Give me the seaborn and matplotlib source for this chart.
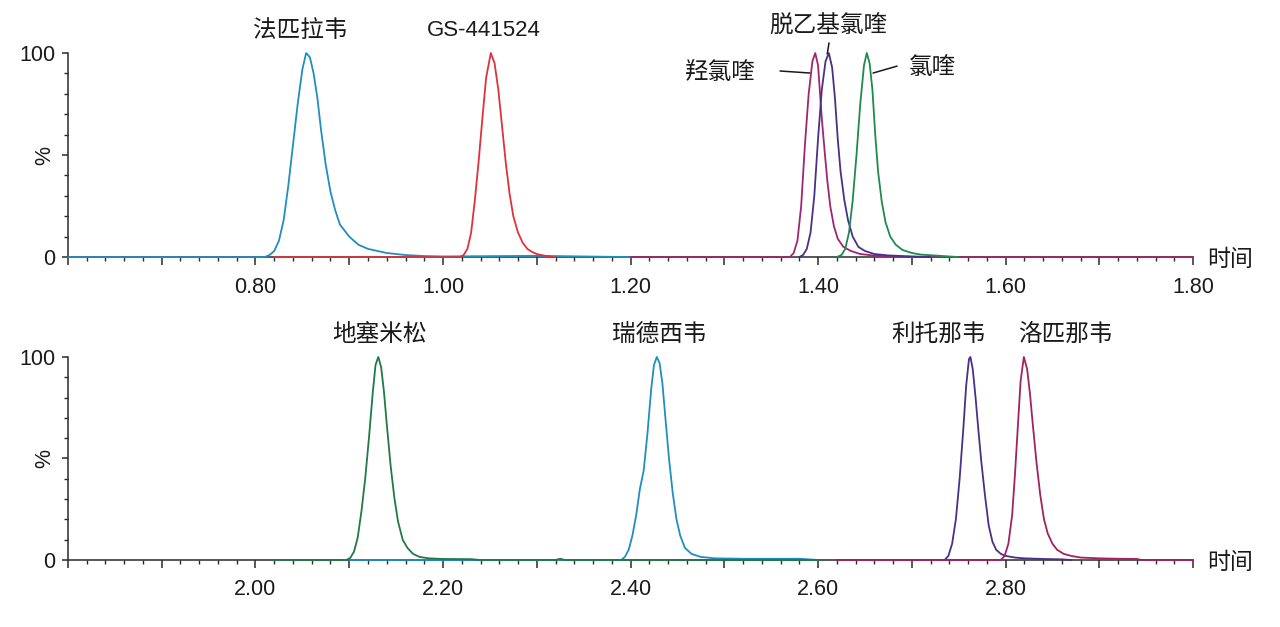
import pandas as pd
import matplotlib.pyplot as plt
import matplotlib.ticker as mticker
import seaborn as sns

# ---- top panel traces: retention time (min) / relative intensity (%) ----
favipiravir_t = [0.60, 0.81, 0.815, 0.82, 0.825, 0.83, 0.835, 0.84, 0.845, 0.85, 0.854, 0.858,
                 0.862, 0.866, 0.87, 0.875, 0.88, 0.885, 0.89, 0.90, 0.91, 0.92, 0.93, 0.94,
                 0.96, 0.98, 1.00, 1.10, 1.15, 1.20]
favipiravir_y = [0, 0, 1, 3, 8, 18, 35, 55, 75, 92, 100, 98,
                 90, 78, 62, 45, 32, 23, 16, 10, 6, 4, 3, 2,
                 1, 0.5, 0.3, 0.6, 0.3, 0]

gs441524_t = [0.82, 1.018, 1.022, 1.026, 1.03, 1.034, 1.038, 1.042, 1.046, 1.051, 1.055, 1.059,
              1.063, 1.067, 1.071, 1.075, 1.08, 1.085, 1.09, 1.095, 1.10, 1.11, 1.12]
gs441524_y = [0, 0, 1, 4, 12, 28, 47, 68, 88, 100, 95, 82,
              64, 46, 31, 20, 12, 7, 4, 2.5, 1.5, 0.5, 0]

hcq_t = [1.20, 1.37, 1.374, 1.378, 1.382, 1.386, 1.39, 1.394, 1.397, 1.40, 1.404, 1.407,
         1.41, 1.413, 1.417, 1.421, 1.427, 1.435, 1.445, 1.46, 1.48, 1.50, 1.80]
hcq_y = [0, 0, 2, 8, 25, 55, 80, 96, 100, 94, 68, 52,
         37, 25, 15, 9, 5, 3, 1.5, 0.7, 0.3, 0, 0]

desethyl_cq_t = [1.38, 1.384, 1.388, 1.392, 1.396, 1.40, 1.404, 1.408, 1.4115, 1.415, 1.418, 1.421,
                 1.424, 1.428, 1.432, 1.437, 1.443, 1.45, 1.46, 1.475, 1.49, 1.52]
desethyl_cq_y = [0, 1, 4, 12, 30, 58, 82, 96, 100, 93, 78, 58,
                 42, 28, 18, 10, 5, 3, 1.5, 0.8, 0.5, 0]

cq_t = [1.42, 1.425, 1.429, 1.433, 1.437, 1.441, 1.445, 1.449, 1.452, 1.455, 1.458, 1.461,
        1.464, 1.468, 1.472, 1.477, 1.483, 1.49, 1.50, 1.51, 1.53, 1.55]
cq_y = [0, 1, 4, 12, 28, 50, 75, 94, 100, 95, 82, 60,
        42, 27, 17, 10, 6, 3.5, 2, 1.2, 0.6, 0]

# ---- bottom panel traces ----
dexamethasone_t = [2.02, 2.097, 2.101, 2.105, 2.109, 2.113, 2.117, 2.121, 2.125, 2.128, 2.131, 2.134,
                   2.137, 2.14, 2.144, 2.148, 2.152, 2.157, 2.162, 2.168, 2.175, 2.185, 2.20, 2.23,
                   2.24, 2.32, 2.325, 2.33, 2.60]
dexamethasone_y = [0, 0, 1, 4, 11, 24, 40, 60, 82, 96, 100, 95,
                   83, 67, 47, 31, 19, 10, 6, 3, 1.5, 0.8, 0.5, 0.4,
                   0, 0, 0.6, 0, 0]

remdesivir_t = [2.10, 2.39, 2.394, 2.398, 2.402, 2.406, 2.41, 2.414, 2.418, 2.422, 2.425, 2.428,
                2.431, 2.434, 2.437, 2.441, 2.445, 2.449, 2.453, 2.458, 2.465, 2.475, 2.49, 2.52,
                2.58, 2.60]
remdesivir_y = [0, 0, 1.5, 5, 12, 22, 35, 44, 62, 84, 96, 100,
                97, 87, 71, 50, 33, 20, 12, 6, 3, 1.5, 0.8, 0.6,
                0.6, 0]

ritonavir_t = [2.735, 2.739, 2.743, 2.747, 2.751, 2.755, 2.758, 2.761, 2.7625, 2.765, 2.768, 2.771,
               2.774, 2.778, 2.782, 2.786, 2.79, 2.795, 2.80, 2.81, 2.82, 2.84, 2.86, 2.87]
ritonavir_y = [0, 2, 8, 20, 40, 65, 86, 99, 100, 94, 80, 64,
               49, 32, 17, 9, 5, 3, 2, 1.2, 0.8, 0.5, 0.3, 0]

lopinavir_t = [2.62, 2.795, 2.799, 2.803, 2.807, 2.81, 2.813, 2.816, 2.8195, 2.823, 2.826, 2.829,
               2.833, 2.837, 2.841, 2.845, 2.85, 2.855, 2.862, 2.87, 2.88, 2.90, 2.92, 2.94,
               2.945, 3.00]
lopinavir_y = [0, 0, 2, 8, 22, 42, 65, 88, 100, 94, 82, 67,
               48, 32, 20, 13, 8, 5, 3, 2, 1.2, 0.8, 0.6, 0.5,
               0, 0]

top_traces = [("法匹拉韦", favipiravir_t, favipiravir_y),
              ("GS-441524", gs441524_t, gs441524_y),
              ("羟氯喹", hcq_t, hcq_y),
              ("脱乙基氯喹", desethyl_cq_t, desethyl_cq_y),
              ("氯喹", cq_t, cq_y)]
bottom_traces = [("瑞德西韦", remdesivir_t, remdesivir_y),
                 ("地塞米松", dexamethasone_t, dexamethasone_y),
                 ("利托那韦", ritonavir_t, ritonavir_y),
                 ("洛匹那韦", lopinavir_t, lopinavir_y)]

colors = {"法匹拉韦": "#1f8ec0", "GS-441524": "#e0313b", "羟氯喹": "#a3246f",
          "脱乙基氯喹": "#4a2f88", "氯喹": "#1f8a4e",
          "瑞德西韦": "#1f8ec0", "地塞米松": "#1f7a47", "利托那韦": "#4a2f88",
          "洛匹那韦": "#a3215f"}

# peak labels: (text, time, y%)
top_labels = [("法匹拉韦", 0.8475, 111), ("GS-441524", 1.0437, 111),
              ("脱乙基氯喹", 1.4105, 113), ("羟氯喹", 1.2955, 90.5), ("氯喹", 1.5216, 93)]
top_leaders = [((1.3595, 91.2), (1.3915, 90.2)),
               ((1.4117, 105.0), (1.4098, 99.5)),
               ((1.4843, 93.6), (1.4587, 90.2))]
bottom_labels = [("地塞米松", 2.1318, 111), ("瑞德西韦", 2.4305, 111),
                 ("利托那韦", 2.729, 111), ("洛匹那韦", 2.8635, 111)]

sns.set_style("ticks")
LATIN = ["Liberation Sans", "Noto Sans CJK SC"]
CJK = ["Noto Sans CJK SC", "DejaVu Sans"]
plt.rcParams["font.family"] = LATIN
TXT = "#1a1a1a"


def to_frame(traces):
    rows = []
    for name, ts, ys in traces:
        for t, y in zip(ts, ys):
            rows.append({"time": t, "pct": y, "compound": name})
    return pd.DataFrame(rows)


def style_axis(ax, xmin, xmax, labelled):
    ax.set_xlim(xmin, xmax)
    ax.set_ylim(0, 100)
    sns.despine(ax=ax)
    for s in ("left", "bottom"):
        ax.spines[s].set_linewidth(1.1)
        ax.spines[s].set_color("#2a2a2a")
    majors = [round(xmin + 0.1 * i, 2) for i in range(13)]
    ax.set_xticks(majors)
    ax.set_xticklabels([f"{v:.2f}" if v in labelled else "" for v in majors])
    ax.xaxis.set_minor_locator(mticker.MultipleLocator(0.02))
    ax.set_yticks([0, 50, 100])
    ax.set_yticklabels(["0", "", "100"])
    ax.yaxis.set_minor_locator(mticker.MultipleLocator(10))
    ax.tick_params(axis="both", which="major", labelsize=15.5, colors="#2a2a2a",
                   labelcolor=TXT, width=1.1)
    ax.tick_params(axis="x", which="major", length=6, pad=8)
    ax.tick_params(axis="y", which="major", length=4, pad=5)
    ax.tick_params(axis="both", which="minor", length=3, width=1.0, colors="#2a2a2a")
    ax.set_xlabel("")
    ax.set_ylabel("")
    ax.text(-0.021, 0.5, "%", transform=ax.transAxes, rotation=90, ha="center",
            va="center", fontsize=15.5, color=TXT)
    ax.text(1.0325, -0.01, "时间", transform=ax.transAxes, ha="center", va="center",
            fontsize=16.5, color=TXT, family=CJK)


fig = plt.figure(figsize=(12.8, 6.27), dpi=100)
ax_top = fig.add_axes([0.0531, 0.590, 0.879, 0.3254])
ax_bot = fig.add_axes([0.0531, 0.1069, 0.879, 0.3238])

top_df = to_frame(top_traces)
bot_df = to_frame(bottom_traces)

sns.lineplot(data=top_df, x="time", y="pct", hue="compound", palette=colors,
             hue_order=[n for n, _, _ in top_traces], sort=False, estimator=None,
             linewidth=1.3, legend=False, clip_on=False, zorder=3, ax=ax_top)
sns.lineplot(data=bot_df, x="time", y="pct", hue="compound", palette=colors,
             hue_order=[n for n, _, _ in bottom_traces], sort=False, estimator=None,
             linewidth=1.3, legend=False, clip_on=False, zorder=3, ax=ax_bot)

style_axis(ax_top, 0.60, 1.80, [0.8, 1.0, 1.2, 1.4, 1.6, 1.8])
style_axis(ax_bot, 1.80, 3.00, [2.0, 2.2, 2.4, 2.6, 2.8])

for text, t, y in top_labels:
    is_cjk = not text.startswith("GS")
    ax_top.text(t, y, text, ha="center", va="center", fontsize=17 if is_cjk else 16,
                color=TXT, family=CJK if is_cjk else LATIN, clip_on=False)
for (x0, y0), (x1, y1) in top_leaders:
    ax_top.plot([x0, x1], [y0, y1], color=TXT, lw=1.1, clip_on=False)
for text, t, y in bottom_labels:
    ax_bot.text(t, y, text, ha="center", va="center", fontsize=17, color=TXT,
                family=CJK, clip_on=False)

fig.savefig("out.png", dpi=100, facecolor="white")
